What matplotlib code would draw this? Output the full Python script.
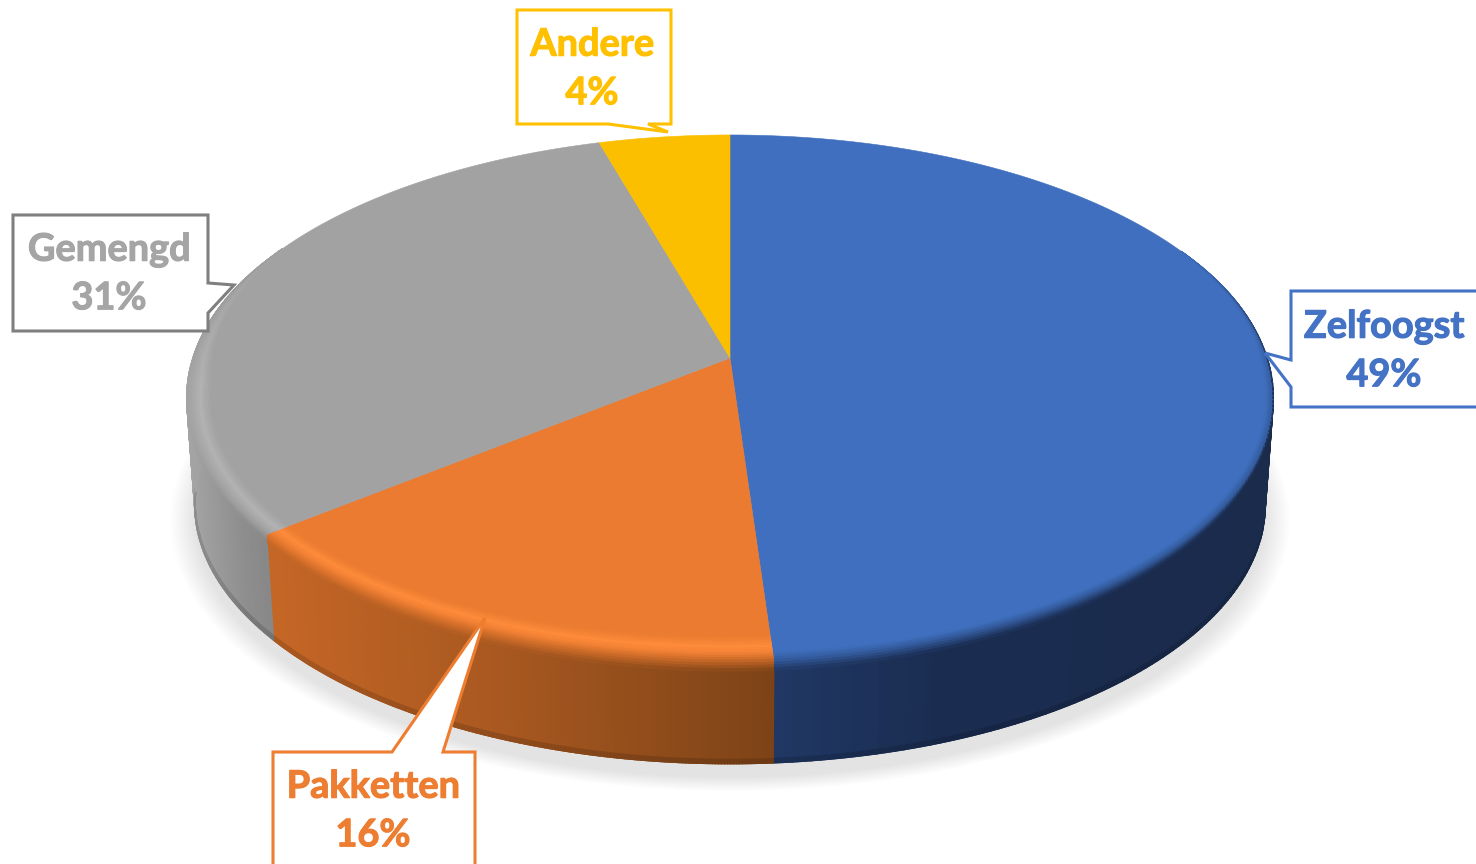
import numpy as np
import matplotlib
matplotlib.use('Agg')
import matplotlib.pyplot as plt
import matplotlib.patheffects as pe
from matplotlib.collections import PolyCollection
from matplotlib.colors import to_rgb
from matplotlib.patches import Polygon

labels = ['Zelfoogst', 'Pakketten', 'Gemengd', 'Andere']
percent_labels = ['49%', '16%', '31%', '4%']
values = [48.9, 15.4, 31.2, 4.5]

face_colors = ['#3f6fbe', '#ea7b30', '#a2a2a2', '#fbbf00']
text_colors = ['#4472c4', '#ed7d31', '#a5a5a5', '#ffc000']
line_colors = ['#4472c4', '#ed7d31', '#7f7f7f', '#ffc000']
# side shade per slice: pixel x -> colour
side_x = [[772, 950, 1272], [272, 500, 772], [187, 240, 275], [600, 660, 730]]
side_c = [['#203864', '#1a2c50', '#1a2b4c'],
          ['#c46626', '#a85820', '#7d4317'],
          ['#a4a4a4', '#8e8e8e', '#858585'],
          ['#bf9000', '#bf9000', '#bf9000']]
highlight = [0.0, 1.0, 0.9, 0.0]

label_xy = [(1384, 351), (373, 811), (109, 274), (592, 69)]
callouts = [
    [(1291, 291), (1482, 291), (1482, 407), (1291, 407), (1291, 387), (1265, 353), (1291, 360)],
    [(273, 752), (392, 752), (485, 618), (443, 752), (475, 752), (475, 875), (273, 875)],
    [(13, 215), (208, 215), (208, 283), (234, 285), (208, 313), (208, 331), (13, 331)],
    [(517, 10), (671, 10), (671, 124), (648, 124), (668, 132), (608, 124), (517, 124)],
]

# projection of the pie disc to pixels
CX, CY, A, B, K = 730, 358, 537, 256.6, 0.1505
DROP, SHRINK = 108, 0.985
BEVEL_IN, BEVEL_DOWN = 24, 28


def project(theta, drop=0.0, scale=1.0):
    u, v = np.sin(theta), np.cos(theta)
    d = 1 + K * v
    return CX + scale * A * u / d, CY + drop - scale * B * v / d


def bevel(theta, o, w):
    # point near the rim, o=0 on the rim, o>0 towards the apex, o<0 hangs down over the wall
    x, y = project(theta)
    if o > 0:
        dist = np.hypot(CX - x, CY - y)
        return x + (CX - x) / dist * o * BEVEL_IN * w, y + (CY - y) / dist * o * BEVEL_IN * w
    return x, y + o * np.cos(theta) * BEVEL_DOWN * w


def shade(x, i):
    rgb = np.array([to_rgb(c) for c in side_c[i]])
    return np.array([np.interp(x, side_x[i], rgb[:, j]) for j in range(3)])


fig = plt.figure(figsize=(14.76, 8.64), dpi=100)
ax = fig.add_axes([0, 0, 1, 1])
ax.set_xlim(0, 1476)
ax.set_ylim(864, 0)
ax.axis('off')

edges = np.deg2rad(np.r_[0, np.cumsum(values)] / np.sum(values) * 360)

# soft shadow
t_all = np.linspace(0, 2 * np.pi, 360)
for s in np.linspace(1.03, 0.985, 14):
    x, y = project(t_all, drop=DROP + 14, scale=s)
    ax.fill(x, y, color='black', alpha=0.0095, lw=0, zorder=1)

# side wall, only the part that faces the viewer
for i in range(len(values)):
    t = np.linspace(edges[i], edges[i + 1], 200)
    quads, cols = [], []
    for a, b in zip(t[:-1], t[1:]):
        if np.cos((a + b) / 2) > 0.3:
            continue
        x0a, y0a = project(a)
        x0b, y0b = project(b)
        x1a, y1a = project(a, drop=DROP, scale=SHRINK)
        x1b, y1b = project(b, drop=DROP, scale=SHRINK)
        c = shade((x0a + x0b) / 2, i)
        quads.append([(x0a, y0a), (x0b, y0b), (x1b, y1b), (x1a, y1a)])
        cols.append(c)
        # darker foot of the wall
        if np.cos((a + b) / 2) < -0.1:
            quads.append([(x1a, y1a - 4), (x1b, y1b - 4), (x1b, y1b), (x1a, y1a)])
            cols.append(c * 0.85)
    ax.add_collection(PolyCollection(quads, facecolors=cols, edgecolors=cols, linewidths=1.2, zorder=2))

# top face and bevel
stops_o = [1.0, 0.55, 0.3, 0.0, -0.4]
stops_h = [0.0, 1.0, 0.5, 0.0, 0.0]
stops_s = [0.0, 0.0, 0.0, 0.3, 1.0]
o_steps = np.linspace(1.0, -0.4, 15)
for i in range(len(values)):
    t = np.linspace(edges[i], edges[i + 1], 200)
    x, y = project(t)
    ax.add_patch(Polygon(np.c_[np.r_[CX, x], np.r_[CY, y]], closed=True, fc=face_colors[i], ec=face_colors[i], lw=0.4, zorder=3))

    f = np.array(to_rgb(face_colors[i]))
    hi = np.clip(f * 1.06 + 0.035, 0, 1)
    quads, cols = [], []
    for a, b in zip(t[:-1], t[1:]):
        m = (a + b) / 2
        w = np.clip((0.45 - np.cos(m)) / 0.55, 0, 1)
        if w == 0:
            continue
        sc = shade(project(m)[0], i)
        for o0, o1 in zip(o_steps[:-1], o_steps[1:]):
            om = (o0 + o1) / 2
            h = np.interp(-om, [-s for s in stops_o], stops_h) * highlight[i]
            s = np.interp(-om, [-s for s in stops_o], stops_s)
            c = f + (hi - f) * h * w + (sc - f) * s * w
            quads.append([bevel(a, o0, w), bevel(b, o0, w), bevel(b, o1, w), bevel(a, o1, w)])
            cols.append(np.clip(c, 0, 1))
    ax.add_collection(PolyCollection(quads, facecolors=cols, edgecolors=cols, linewidths=0.6, zorder=4))

# callouts
for i in range(len(labels)):
    ax.add_patch(Polygon(callouts[i], closed=True, fc='white', ec=line_colors[i], lw=2.2, zorder=5, joinstyle='miter'))
    ax.text(label_xy[i][0], label_xy[i][1], labels[i] + '\n' + percent_labels[i], color=text_colors[i],
            fontsize=27.3, fontfamily='Lato', fontweight='bold', ha='center', va='center',
            linespacing=1.52, zorder=6,
            path_effects=[pe.withStroke(linewidth=0.8, foreground=text_colors[i])])

fig.savefig('out.png', dpi=100)
